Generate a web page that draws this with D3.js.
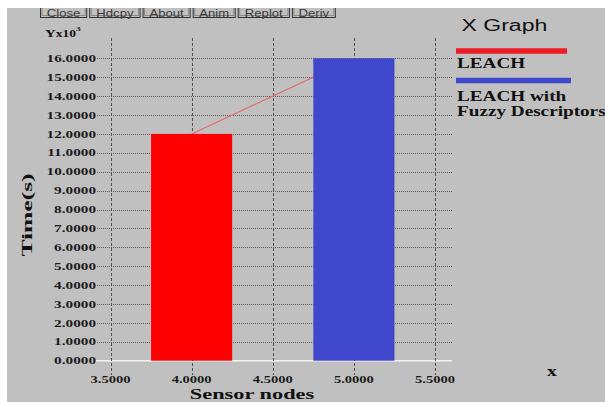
<!DOCTYPE html>
<html>
<head>
<meta charset="utf-8">
<script src="https://cdn.jsdelivr.net/npm/d3@7"></script>
<style>
  html, body { margin: 0; padding: 0; background: #ffffff; }
  svg { display: block; }
</style>
</head>
<body>
<svg id="chart" width="605" height="402"></svg>
<script>
// ---------------- data ----------------
const categories   = [4.0, 5.0];                       // Sensor nodes
const seriesNames  = ["LEACH", "LEACH with Fuzzy Descriptors"];
const timeValues   = [12, 16];                         // Time(s), x10^3
const seriesColors = ["#ff0000", "#3f48cc"];
const legendColors = ["#ee1c24", "#3f48cc"];
const xTickValues  = [3.5, 4.0, 4.5, 5.0, 5.5];
const yTickValues  = [0, 1, 2, 3, 4, 5, 6, 7, 8, 9, 10, 11, 12, 13, 14, 15, 16];
const buttonLabels = ["Close", "Hdcpy", "About", "Anim", "Replot", "Deriv"];

// ---------------- setup ----------------
const W = 605, H = 402;
const svg = d3.select("#chart");
const SERIF = "'Liberation Serif', 'Times New Roman', serif";
const SANS  = "'Liberation Sans', Arial, sans-serif";
const barHalf = 0.25;     // bar half-width in data units

function stretch(sel, f) {
  sel.each(function () {
    const w = this.getComputedTextLength();
    d3.select(this).attr("textLength", w * f).attr("lengthAdjust", "spacingAndGlyphs");
  });
  return sel;
}

// background
svg.append("rect").attr("x", 0).attr("y", 0).attr("width", W).attr("height", H).attr("fill", "#ffffff");
svg.append("rect").attr("x", 7).attr("y", 0).attr("width", W - 7).attr("height", H).attr("fill", "#c0c0c0");

const x = d3.scaleLinear().domain([3.5, 5.5]).range([110.5, 435]);
const y = d3.scaleLinear().domain([0, 16]).range([360.7, 58.3]);

const gridLeft = 97, gridRight = 452, vTop = 38, vBottom = 375;

// horizontal dotted grid lines
svg.append("g").selectAll("line")
  .data(yTickValues.filter(v => v !== 0))
  .join("line")
  .attr("x1", gridLeft).attr("x2", gridRight)
  .attr("y1", d => Math.round(y(d)) + 0.5).attr("y2", d => Math.round(y(d)) + 0.5)
  .attr("stroke", "#5a5a5a").attr("stroke-width", 1).attr("stroke-dasharray", "1,1");

// zero line (white)
svg.append("line")
  .attr("x1", 95).attr("x2", gridRight)
  .attr("y1", y(0)).attr("y2", y(0))
  .attr("stroke", "#f2f2f2").attr("stroke-width", 1.5);

// vertical dashed grid lines
svg.append("g").selectAll("line")
  .data(xTickValues)
  .join("line")
  .attr("x1", d => Math.round(x(d)) + 0.5).attr("x2", d => Math.round(x(d)) + 0.5)
  .attr("y1", vTop).attr("y2", vBottom)
  .attr("stroke", "#505050").attr("stroke-width", 1).attr("stroke-dasharray", "3,2");

// connecting line between bar tops
const line = d3.line().x(d => x(d[0])).y(d => y(d[1]));
svg.append("path")
  .datum(categories.map((c, i) => [c, timeValues[i]]))
  .attr("d", line)
  .attr("fill", "none").attr("stroke", "#e66a6a").attr("stroke-width", 1.1);

// bars
svg.append("g").selectAll("rect")
  .data(categories)
  .join("rect")
  .attr("x", d => x(d - barHalf))
  .attr("width", d => x(d + barHalf) - x(d - barHalf))
  .attr("y", (d, i) => y(timeValues[i]))
  .attr("height", (d, i) => y(0) - y(timeValues[i]))
  .attr("fill", (d, i) => seriesColors[i]);

// y tick labels
stretch(svg.append("g").selectAll("text")
  .data(yTickValues)
  .join("text")
  .attr("x", 96).attr("y", d => y(d)).attr("dy", "0.35em")
  .attr("text-anchor", "end")
  .attr("font-family", SERIF).attr("font-weight", "bold").attr("font-size", 10.5)
  .attr("fill", "#1a1a1a")
  .text(d => d3.format(".4f")(d)), 1.45);

// x tick labels
stretch(svg.append("g").selectAll("text")
  .data(xTickValues)
  .join("text")
  .attr("x", d => x(d)).attr("y", 379.5).attr("dy", "0.35em")
  .attr("text-anchor", "middle")
  .attr("font-family", SERIF).attr("font-weight", "bold").attr("font-size", 10)
  .attr("fill", "#1a1a1a")
  .text(d => d3.format(".4f")(d)), 1.45);

// axis titles
stretch(svg.append("text")
  .attr("x", 252).attr("y", 399)
  .attr("text-anchor", "middle")
  .attr("font-family", SERIF).attr("font-weight", "bold").attr("font-size", 15)
  .attr("fill", "#111")
  .text("Sensor nodes"), 1.49);

stretch(svg.append("text")
  .attr("transform", "translate(32,215) rotate(-90)")
  .attr("text-anchor", "middle")
  .attr("font-family", SERIF).attr("font-weight", "bold").attr("font-size", 15)
  .attr("fill", "#111")
  .text("Time(s)"), 1.7);

// Y x10^3 label
const ylab = svg.append("text")
  .attr("x", 45).attr("y", 37)
  .attr("font-family", SERIF).attr("font-weight", "bold").attr("fill", "#111");
ylab.append("tspan").attr("font-size", 11).text("Y");
ylab.append("tspan").attr("font-size", 10).text("x10");
ylab.append("tspan").attr("font-size", 7).attr("dy", -6).text("3");
stretch(ylab, 1.35);

// "x" label at bottom right
stretch(svg.append("text")
  .attr("x", 552).attr("y", 376)
  .attr("text-anchor", "middle")
  .attr("font-family", SERIF).attr("font-weight", "bold").attr("font-size", 14)
  .attr("fill", "#111")
  .text("x"), 1.4);

// ---------------- legend ----------------
stretch(svg.append("text")
  .attr("x", 461.5).attr("y", 30.5)
  .attr("font-family", SANS).attr("font-size", 16)
  .attr("fill", "#111")
  .text("X Graph"), 1.44);

const legendLines = [[456, 567, 51], [456, 571, 80.5]];
svg.append("g").selectAll("line")
  .data(seriesNames)
  .join("line")
  .attr("x1", (d, i) => legendLines[i][0]).attr("x2", (d, i) => legendLines[i][1])
  .attr("y1", (d, i) => legendLines[i][2]).attr("y2", (d, i) => legendLines[i][2])
  .attr("stroke", (d, i) => legendColors[i]).attr("stroke-width", 5.5);

const legendText = [["LEACH"], ["LEACH with", "Fuzzy Descriptors"]];
const legendBase = [68, 101.3];
legendText.forEach((lines, i) => {
  lines.forEach((t, j) => {
    stretch(svg.append("text")
      .attr("x", 457).attr("y", legendBase[i] + j * 15)
      .attr("font-family", SERIF).attr("font-weight", "bold").attr("font-size", 14)
      .attr("fill", "#111")
      .text(t), 1.37);
  });
});

// ---------------- buttons ----------------
let bx = 40;
const bg = svg.append("g");
buttonLabels.forEach(lbl => {
  const g = bg.append("g");
  const t = g.append("text")
    .attr("y", 16.5)
    .attr("text-anchor", "middle")
    .attr("font-family", SANS).attr("font-size", 11.5)
    .attr("fill", "#3a3a3a")
    .text(lbl);
  stretch(t, 1.14);
  const tw = t.node().getComputedTextLength() * 1.14;
  const bw = tw + 9;
  g.insert("rect", "text").attr("x", bx + 0.5).attr("y", -2).attr("width", bw - 1).attr("height", 19.5)
    .attr("fill", "#c0c0c0").attr("stroke", "#333").attr("stroke-width", 1);
  g.insert("rect", "text").attr("x", bx + 2).attr("y", -2).attr("width", bw - 4).attr("height", 17.5)
    .attr("fill", "none").attr("stroke", "#8a8a8a").attr("stroke-width", 1);
  t.attr("x", bx + bw / 2);
  bx += bw + 2;
});

// top white strip
svg.append("rect").attr("x", 0).attr("y", 0).attr("width", W).attr("height", 8).attr("fill", "#ffffff");
</script>
</body>
</html>
